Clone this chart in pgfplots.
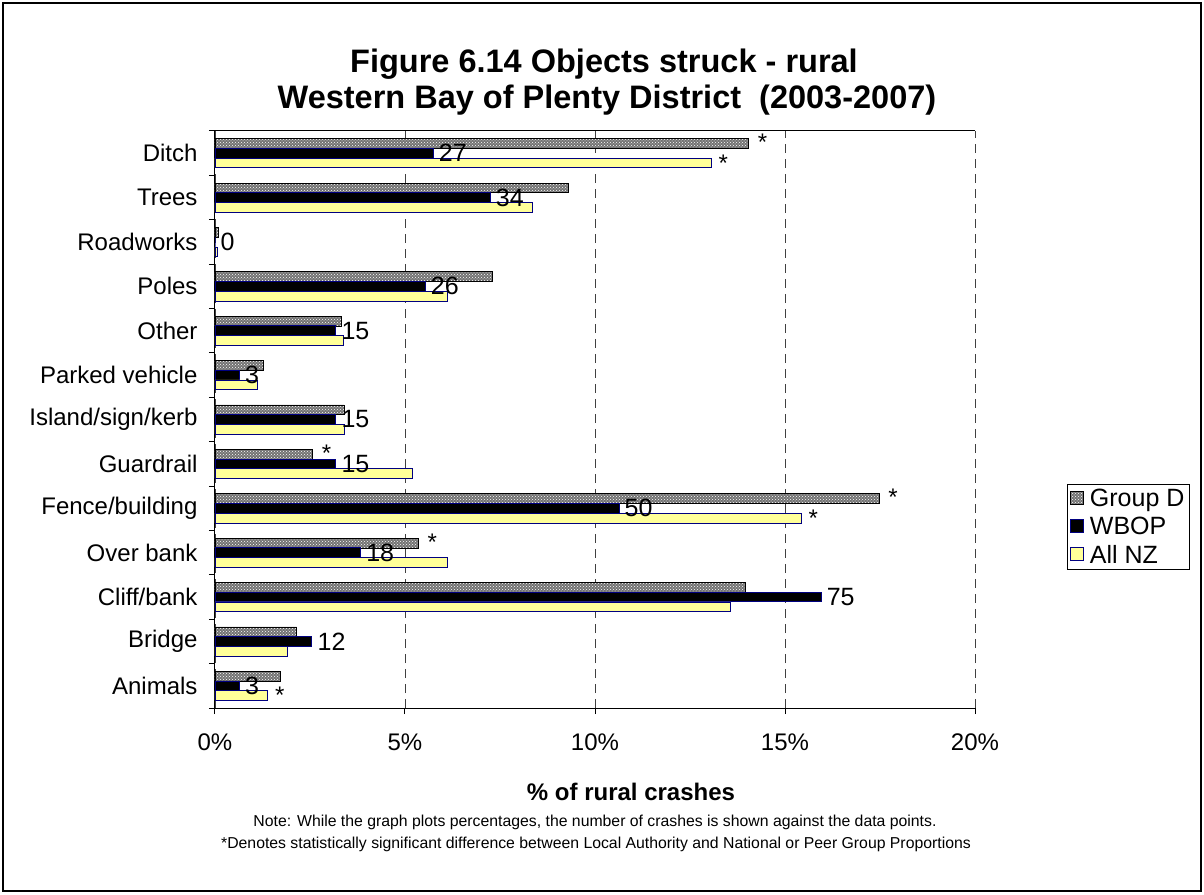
\documentclass[border=0pt]{standalone}
\usepackage{fontspec}
\setmainfont{Liberation Sans}
\usepackage{pgfplots}
\pgfplotsset{compat=1.18}
\usetikzlibrary{patterns}
\definecolor{nzyellow}{HTML}{FFFF99}
\definecolor{navyb}{HTML}{000080}
\newcommand{\fs}[1]{\fontsize{#1}{#1}\selectfont}
\begin{document}
\begin{tikzpicture}[x=1pt,y=1pt]
\path[use as bounding box] (-215,-186) rectangle (989,708);
\draw[line width=1.5pt] (-212,-183) rectangle (986,705);
\node[font=\bfseries\fs{32.5}] at (389,644) {Figure 6.14 Objects struck - rural};
\node[font=\bfseries\fs{32.5}] at (392,608) {Western Bay of Plenty District\ \ (2003-2007)};
\node[font=\bfseries\fs{24}] at (416,-84) {\% of rural crashes};
\node[font=\fs{15.8}] at (380,-114) {Note: While the graph plots percentages, the number of crashes is shown against the data points.};
\node[font=\fs{15.8}] at (381,-136) {*Denotes statistically significant difference between Local Authority and National or Peer Group Proportions};
\begin{axis}[
  at={(0,0)}, anchor=south west,
  width=760pt, height=577pt, scale only axis,
  xbar, bar width=9.7pt,
  xmin=0, xmax=20, ymin=-0.5, ymax=12.5,
  axis x line*=bottom, axis y line*=left,
  axis line style={black, line width=1pt},
  xtick={0,5,10,15,20},
  xticklabels={0\%,5\%,10\%,15\%,20\%},
  ytick={0,...,12},
  yticklabels={Animals,Bridge,Cliff/bank,Over bank,Fence/building,Guardrail,Island/sign/kerb,Parked vehicle,Other,Poles,Roadworks,Trees,Ditch},
  minor ytick={-0.5,0.5,...,12.5},
  every major y tick/.style={draw=none},
  major tick length=6pt, minor tick length=6pt,
  tick align=outside,
  tick style={black, line width=1pt},
  xticklabel style={font=\fs{24}, yshift=-16pt},
  yticklabel style={font=\fs{24}, xshift=-8pt},
  xmajorgrids,
  grid style={black!75, line width=0.8pt, dash pattern=on 9pt off 6pt},
  legend style={at={(1.121,0.314)}, anchor=west, font=\fs{25}, draw=black, line width=0.8pt, inner sep=3pt, row sep=5pt, cells={anchor=west},
    /tikz/every odd column/.append style={column sep=4pt}},
  legend image code/.code={\draw[#1, line width=0.6pt] (0pt,-6pt) rectangle (13pt,7pt);},
]
\addplot[bar shift=9.7pt, draw=black, line width=0.6pt, fill=black!55,
  postaction={pattern=crosshatch dots, pattern color=white},
  nodes near coords, point meta=explicit symbolic,
  nodes near coords style={font=\fs{24}, anchor=west, xshift=6pt, yshift=1pt, black}]
coordinates {
 (1.72,0) [] (2.15,1) [] (13.95,2) [] (5.34,3) [*] (17.47,4) [*]
 (2.56,5) [*] (3.39,6) [] (1.27,7) [] (3.32,8) [] (7.30,9) []
 (0.08,10) [] (9.29,11) [] (14.03,12) [*]
};
\addlegendentry{Group D}
\addplot[bar shift=0pt, draw=navyb, line width=0.8pt, fill=black,
  nodes near coords, point meta=explicit symbolic,
  nodes near coords style={font=\fs{25}, anchor=west, xshift=2pt, black}]
coordinates {
 (0.64,0) [3] (2.55,1) [12] (15.95,2) [75] (3.83,3) [18] (10.63,4) [50]
 (3.18,5) [15] (3.18,6) [15] (0.64,7) [3] (3.18,8) [15] (5.53,9) [26]
 (0,10) [0] (7.24,11) [34] (5.74,12) [27]
};
\addlegendentry{WBOP}
\addplot[bar shift=-9.7pt, draw=navyb, line width=0.6pt, fill=nzyellow,
  nodes near coords, point meta=explicit symbolic,
  nodes near coords style={font=\fs{24}, anchor=west, xshift=4pt, yshift=0pt, black}]
coordinates {
 (1.38,0) [*] (1.90,1) [] (13.57,2) [] (6.10,3) [] (15.42,4) [*]
 (5.18,5) [] (3.39,6) [] (1.11,7) [] (3.37,8) [] (6.11,9) []
 (0.05,10) [] (8.34,11) [] (13.05,12) [*]
};
\addlegendentry{All NZ}
\draw[black, line width=1pt] (rel axis cs:0,1) -- (rel axis cs:1,1);
\end{axis}
\end{tikzpicture}
\end{document}
